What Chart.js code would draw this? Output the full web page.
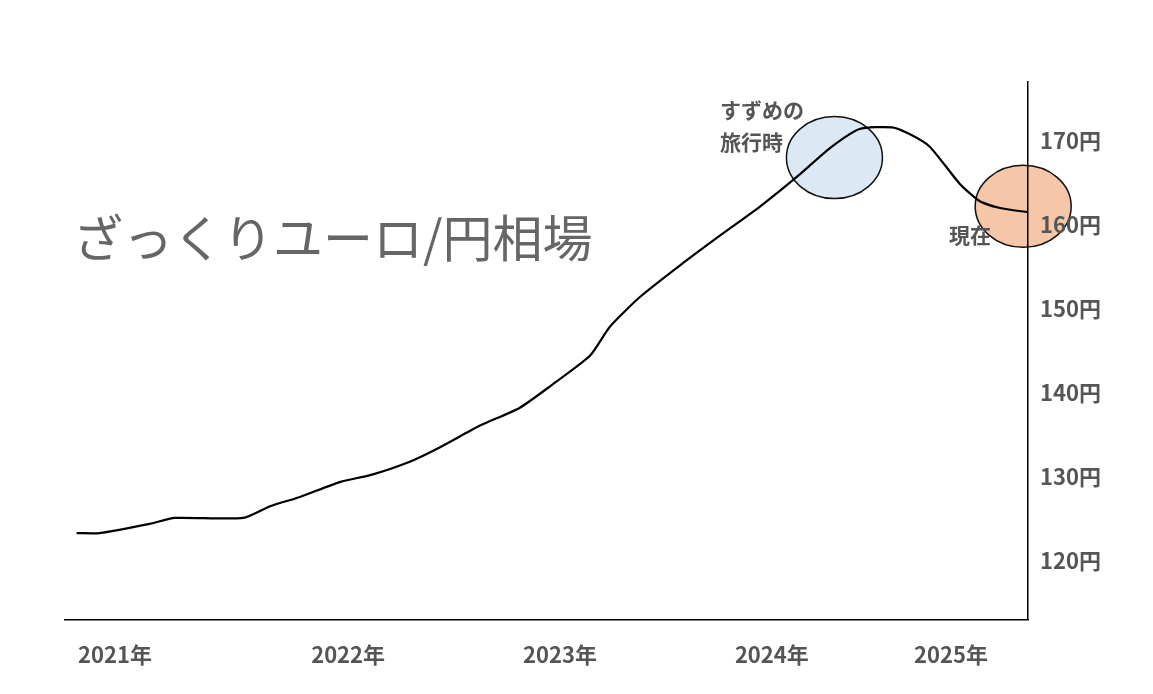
<!DOCTYPE html>
<html><head><meta charset="utf-8">
<script src="https://cdn.jsdelivr.net/npm/chart.js@4"></script>
<style>body{margin:0;background:#fff}#wrap{width:1153px;height:694px}</style>
</head><body><div id="wrap"><canvas id="c"></canvas></div>
<script>
// x in plot units (0-100 across the axis), y in 円
const xs = [1.2, 3.6, 8.8, 11.4, 18.5, 21.3, 24.4, 28.6, 31.7, 35.8, 38.9, 43.1, 47.2, 50.4, 54.5, 56.6, 59.7, 63.9, 68.0, 72.2, 76.3, 79.4, 82.5, 85.9, 87.7, 89.8, 92.9, 95.0, 97.1, 100];
const rate = [123.3, 123.3, 124.4, 125.1, 125.1, 126.5, 127.6, 129.4, 130.2, 131.8, 133.5, 136.1, 138.2, 140.8, 144.4, 147.9, 151.4, 155.2, 158.7, 162.2, 166.0, 169.1, 171.4, 171.6, 170.8, 169.3, 164.9, 162.8, 162.0, 161.5];
const yearTicks = [5.2, 29.4, 51.4, 73.4, 92];
const yearLabels = ['2021年', '2022年', '2023年', '2024年', '2025年'];
const priceTicks = [120, 130, 140, 150, 160, 170];
const marks = [
  {x: 79.9, y: 168.0, fill: '#dce9f5'},
  {x: 99.5, y: 162.2, fill: '#f5c6a8'}
];

const ellipses = {
  id: 'ellipses',
  beforeDraw(chart) {
    const {ctx, scales: {x, y}} = chart;
    ctx.save();
    marks.forEach(m => {
      ctx.beginPath();
      ctx.ellipse(x.getPixelForValue(m.x), y.getPixelForValue(m.y), 48, 41, 0, 0, Math.PI * 2);
      ctx.fillStyle = m.fill; ctx.fill();
      ctx.strokeStyle = '#111'; ctx.lineWidth = 1.5; ctx.stroke();
    });
    ctx.restore();
  },
  afterDraw(chart) {
    const {ctx} = chart;
    ctx.save();
    ctx.fillStyle = '#666';
    ctx.font = '50px "Noto Sans CJK JP"';
    ctx.textBaseline = 'middle';
    ctx.fillText('ざっくりユーロ/円相場', 73, 238);
    ctx.fillStyle = '#555';
    ctx.font = 'bold 21px "Noto Sans CJK JP"';
    ctx.fillText('すずめの', 720, 110);
    ctx.fillText('旅行時', 720, 142);
    ctx.fillText('現在', 949, 235);
    ctx.restore();
  }
};

new Chart(document.getElementById('c'), {
  type: 'line',
  data: { datasets: [{ data: xs.map((v, i) => ({x: v, y: rate[i]})), borderColor: '#000', borderWidth: 2.2, pointRadius: 0, tension: 0.2 }] },
  options: {
    responsive: true, maintainAspectRatio: false, animation: false,
    layout: { padding: { left: 65, top: 82, right: 0, bottom: 4 } },
    plugins: { legend: { display: false }, tooltip: { enabled: false } },
    scales: {
      x: {
        type: 'linear', min: 0, max: 100,
        afterBuildTicks: a => { a.ticks = yearTicks.map(v => ({value: v})); },
        ticks: { callback: (v, i) => yearLabels[i], color: '#555', font: { size: 22, weight: 'bold', family: '"Noto Sans CJK JP"' }, maxRotation: 0, padding: 22 },
        grid: { display: false, drawTicks: false },
        border: { color: '#000', width: 1.5 }
      },
      y: {
        position: 'right', min: 113, max: 177,
        afterBuildTicks: a => { a.ticks = priceTicks.map(v => ({value: v})); },
        ticks: { callback: v => v + '円', color: '#555', font: { size: 22, weight: 'bold', family: '"Noto Sans CJK JP"' }, padding: 12 },
        afterFit: a => { a.width = 125; },
        grid: { display: false, drawTicks: false },
        border: { color: '#000', width: 1.5 }
      }
    }
  },
  plugins: [ellipses]
});
</script></body></html>
